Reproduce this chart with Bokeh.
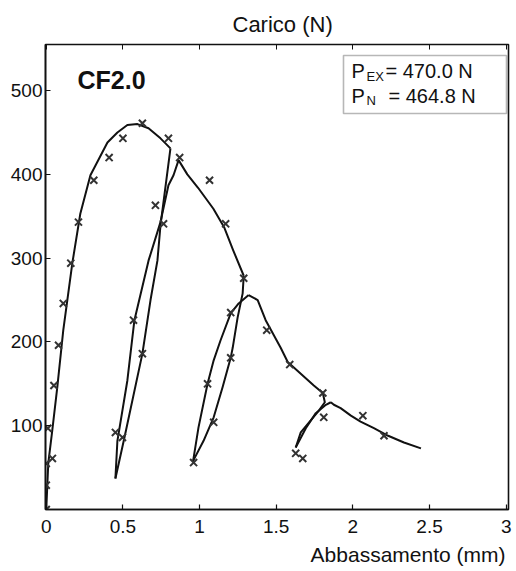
from bokeh.plotting import figure
from bokeh.models import Range1d, FixedTicker, LinearAxis, Label, BoxAnnotation, Title
from bokeh.embed import file_html
from bokeh.resources import INLINE

# ---------------- data ----------------
# envelope, first loading branch up to the first unloading point
env1_x = [0.0, 0.013, 0.039, 0.072, 0.111, 0.17, 0.222, 0.288, 0.399, 0.464, 0.529, 0.595, 0.667, 0.745, 0.81]
env1_y = [0, 55, 94, 146, 214, 294, 353, 399, 438, 450, 459, 460, 455, 443, 431]
# first unloading / reloading
unl1_x = [0.81, 0.745, 0.725, 0.68, 0.627, 0.51, 0.451]
unl1_y = [431, 339, 297, 250, 186, 86, 37]
rel1_x = [0.451, 0.464, 0.529, 0.575, 0.614, 0.667, 0.745, 0.797, 0.83, 0.863]
rel1_y = [37, 82, 154, 226, 256, 297, 343, 387, 399, 417]
# descending envelope 2
env2_x = [0.863, 0.92, 0.99, 1.09, 1.16, 1.22, 1.288]
env2_y = [417, 400, 384, 359, 337, 309, 279]
# second unloading / reloading
unl2_x = [1.288, 1.281, 1.248, 1.216, 1.203, 1.15, 1.092, 1.026, 0.958]
unl2_y = [279, 258, 229, 193, 181, 146, 110, 82, 58]
rel2_x = [0.958, 0.993, 1.052, 1.092, 1.137, 1.203, 1.255, 1.32]
rel2_y = [58, 98, 150, 178, 202, 234, 246, 256]
# descending envelope 3
env3_x = [1.32, 1.379, 1.431, 1.529, 1.575, 1.66, 1.745, 1.804]
env3_y = [256, 250, 226, 193, 176, 162, 148, 139]
# third unloading / reloading
unl3_x = [1.804, 1.817, 1.778, 1.66, 1.627]
unl3_y = [139, 128, 118, 92, 74]
rel3_x = [1.627, 1.693, 1.758, 1.824, 1.856]
rel3_y = [74, 97, 115, 125, 128]
# final descending branch
env4_x = [1.856, 1.876, 1.92, 1.987, 2.05, 2.137, 2.23, 2.333, 2.444]
env4_y = [128, 125, 121, 112, 105, 97, 88, 80, 73]

# experimental points
pts_x = [0.0, 0.0, 0.0, 0.04, 0.01, 0.05, 0.08, 0.111, 0.16, 0.21, 0.31, 0.41, 0.50, 0.627,
         0.797, 0.87, 1.065, 1.17, 0.712, 0.765, 0.569, 0.627, 0.451, 0.497,
         1.288, 1.203, 1.092, 0.961, 1.052, 1.203, 1.438, 1.588,
         1.804, 1.81, 1.627, 1.673, 2.065, 2.203]
pts_y = [0, 29, 55, 61, 97, 148, 196, 246, 294, 343, 393, 420, 443, 461,
         443, 420, 393, 341, 363, 341, 226, 186, 92, 86,
         276, 181, 104, 56, 150, 235, 214, 173,
         139, 110, 67, 61, 112, 88]

x_ticks = [0, 0.5, 1, 1.5, 2, 2.5, 3]
x_tick_labels = ["0", "0.5", "1", "1.5", "2", "2.5", "3"]
y_ticks = [100, 200, 300, 400, 500]
y_tick_labels = ["100", "200", "300", "400", "500"]

title_text = "Carico (N)"
xlabel_text = "Abbassamento (mm)"
specimen = "CF2.0"
p_ex = 470.0
p_n = 464.8

# ---------------- layout ----------------
W, H = 516, 571
L, R, T, B = 45, 8, 44, 62
X0, X1 = -0.005, 3.015
Y0, Y1 = 0, 555
FW, FH = W - L - R, H - T - B
FONT = "Liberation Sans"
INK = "#111111"


def dx(px):
    return X0 + (px - L) / FW * (X1 - X0)


def dy(py):
    return Y0 + (T + FH - py) / FH * (Y1 - Y0)


p = figure(width=W, height=H, x_range=Range1d(X0, X1), y_range=Range1d(Y0, Y1),
           output_backend="svg", toolbar_location=None,
           min_border_left=L, min_border_right=R, min_border_top=T, min_border_bottom=B)
p.background_fill_color = "white"
p.border_fill_color = "white"
p.outline_line_color = INK
p.outline_line_width = 1.6
p.xgrid.visible = False
p.ygrid.visible = False

for ax, ticks, labels in ((p.xaxis[0], x_ticks, x_tick_labels), (p.yaxis[0], y_ticks, y_tick_labels)):
    ax.ticker = FixedTicker(ticks=ticks)
    ax.major_label_overrides = {t: s for t, s in zip(ticks, labels)}
    ax.major_tick_in = 5
    ax.major_tick_out = 0
    ax.minor_tick_line_color = None
    ax.axis_line_color = INK
    ax.axis_line_width = 1.6
    ax.major_tick_line_color = INK
    ax.major_tick_line_width = 1.2
    ax.major_label_text_font = FONT
    ax.major_label_text_font_size = "19px"
    ax.major_label_text_color = INK
p.xaxis.major_label_standoff = 10
p.yaxis.major_label_standoff = 3

top = LinearAxis(ticker=FixedTicker(ticks=x_ticks), major_tick_in=5, major_tick_out=0,
                 minor_tick_line_color=None, axis_line_color=None, major_label_standoff=0,
                 major_label_overrides={t: "" for t in x_ticks}, major_tick_line_color=INK)
p.add_layout(top, "above")

# axis titles (as plot titles so they can sit outside the frame)
p.title = Title(text=title_text, align="left", offset=232 - L, text_font=FONT,
                text_font_size="22px", text_font_style="normal", text_color=INK, standoff=15)
p.add_layout(Title(text=xlabel_text, align="right", offset=3, text_font=FONT,
                   text_font_size="21px", text_font_style="normal", text_color=INK,
                   standoff=10), "below")

segments = [(env1_x, env1_y), (unl1_x, unl1_y), (rel1_x, rel1_y), (env2_x, env2_y),
            (unl2_x, unl2_y), (rel2_x, rel2_y), (env3_x, env3_y),
            (unl3_x, unl3_y), (rel3_x, rel3_y), (env4_x, env4_y)]
for sx, sy in segments:
    p.line(sx, sy, line_color=INK, line_width=2.0, line_join="round")

p.scatter(pts_x, pts_y, marker="x", size=10, line_width=2.0, line_color="#333333")

# ---------------- texts inside the frame ----------------
def lab(px, py, text, size, bold=False):
    p.add_layout(Label(x=dx(px), y=dy(py), text=text, text_align="left",
                       text_baseline="middle", text_font=FONT, text_font_size=size,
                       text_font_style="bold" if bold else "normal", text_color=INK))


lab(77, 79, specimen, "25px", bold=True)

p.add_layout(BoxAnnotation(left=dx(343), right=dx(506), top=dy(55), bottom=dy(113),
                           fill_color=None, line_color=INK, line_width=1.6))
lab(351, 70, "P", "20px")
lab(366, 76, "EX", "13px")
lab(385, 70, f"= {p_ex:.1f} N", "20px")
lab(351, 95, "P", "20px")
lab(366, 100, "N", "13px")
lab(388, 95, f"= {p_n:.1f} N", "20px")

open("out.html", "w").write(file_html(p, INLINE))
